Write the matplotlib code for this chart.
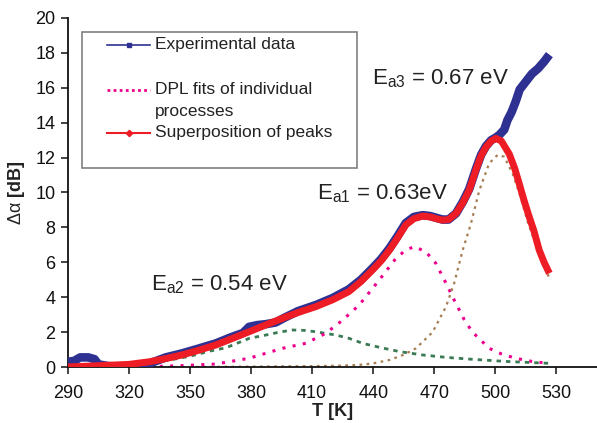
import matplotlib
matplotlib.use("Agg")
import matplotlib.pyplot as plt
from matplotlib.lines import Line2D
from matplotlib.patches import Rectangle

plt.rcParams['font.family'] = ['Liberation Sans', 'DejaVu Sans']
plt.rcParams['mathtext.fontset'] = 'custom'
plt.rcParams['mathtext.rm'] = 'Liberation Sans'
plt.rcParams['mathtext.it'] = 'Liberation Sans:italic'
plt.rcParams['mathtext.bf'] = 'Liberation Sans:bold'

# ---- data ----
T_exp = [290, 293, 296, 300, 303, 305, 310, 320, 330, 338, 346, 354, 362.6, 370, 376, 379,
         383, 387, 392, 396, 403, 411.8, 420, 428, 434, 440, 444, 448, 452, 456, 460, 464.3,
         468, 471, 474, 477, 480.7, 484, 487.2, 490.5, 493, 495.4, 498, 500.3, 502, 504.4,
         506, 508, 510, 512, 515, 518, 521, 524, 526.6]
v_exp = [0.3, 0.35, 0.55, 0.55, 0.45, 0.15, 0.05, 0.0, 0.2, 0.55, 0.78, 1.05, 1.35, 1.7, 1.95, 2.3,
         2.4, 2.45, 2.55, 2.8, 3.2, 3.55, 3.95, 4.45, 5.0, 5.7, 6.2, 6.8, 7.5, 8.25, 8.6, 8.7,
         8.65, 8.55, 8.45, 8.45, 8.8, 9.45, 10.2, 11.35, 12.15, 12.65, 13.0, 13.15, 13.3, 13.6,
         14.15, 14.6, 15.2, 15.9, 16.35, 16.8, 17.1, 17.5, 17.9]

T_sup = [290, 300, 310, 320, 330, 338, 346, 354, 362.6, 370, 379, 387, 395.4, 403, 411.8, 420,
         428, 434, 440, 444, 448, 452, 456, 460, 464.3, 468, 471, 474, 477, 480.7, 484, 487.2,
         490.5, 493, 495.4, 498, 500.3, 503, 506.9, 509.5, 511.8, 514, 516.7, 519, 521.6, 524,
         526.6]
v_sup = [0.0, 0.05, 0.1, 0.15, 0.3, 0.48, 0.69, 0.95, 1.26, 1.6, 2.02, 2.4, 2.79, 3.12, 3.46, 3.85,
         4.32, 4.9, 5.6, 6.1, 6.7, 7.4, 8.14, 8.5, 8.65, 8.6, 8.5, 8.42, 8.45, 8.8, 9.4, 10.14,
         11.3, 12.1, 12.6, 12.95, 13.1, 12.95, 12.2, 11.4, 10.5, 9.6, 8.6, 7.8, 6.7, 6.0,
         5.37]

T_a1 = [330, 346, 362.6, 379, 395.4, 406.9, 416.7, 425, 433.1, 443, 451.2, 456, 460.2, 465.9,
        470.8, 475.8, 479.8, 484.8, 488.8, 497, 503, 510, 518, 526.6]
v_a1 = [0.02, 0.08, 0.17, 0.5, 1.07, 1.36, 1.93, 2.69, 3.55, 4.99, 6.23, 6.7, 6.9, 6.6,
        5.94, 4.8, 3.84, 2.7, 2.0, 1.07, 0.75, 0.5, 0.32, 0.2]

T_a2 = [300, 310, 320, 330, 340, 350, 360, 367.6, 379, 387.2, 394, 400.3, 406, 411.8, 421.7,
        428.2, 435, 443, 453, 464.3, 476, 488.8, 505, 526.6]
v_a2 = [0.0, 0.05, 0.12, 0.25, 0.4, 0.62, 0.92, 1.1, 1.64, 1.83, 2.0, 2.12, 2.1, 2.02, 1.83,
        1.64, 1.35, 1.13, 0.88, 0.69, 0.55, 0.44, 0.32, 0.21]

T_a3 = [290, 320, 350, 380, 410, 425, 433, 439.7, 447.9, 455, 461, 469.2, 475.8, 479.8, 484,
        488, 492.1, 497, 501.1, 504.4, 508.5, 512, 516, 520, 523, 526.6]
v_a3 = [0.0, 0.0, 0.0, 0.02, 0.05, 0.08, 0.12, 0.2, 0.4, 0.7, 1.07, 2.0, 3.46, 4.8, 6.7,
        8.2, 10.1, 11.67, 12.15, 12.05, 11.1, 9.9, 8.3, 7.0, 6.0, 5.1]

x_ticks = [290, 320, 350, 380, 410, 440, 470, 500, 530]
y_ticks = [0, 2, 4, 6, 8, 10, 12, 14, 16, 18, 20]

legend_labels = ['Experimental data', 'DPL fits of individual', 'processes',
                 'Superposition of peaks']
annotations = [r'E$_{\mathrm{a3}}$ = 0.67 eV', r'E$_{\mathrm{a1}}$ = 0.63eV',
               r'E$_{\mathrm{a2}}$ = 0.54 eV']

# ---- style ----
BLUE = '#2E3192'
RED = '#EE1C25'
MAGENTA = '#EC008C'
GREEN = '#3A7A55'
BROWN = '#A67C52'
TXT = '#222222'

W, H = 597, 423
fig = plt.figure(figsize=(W / 100, H / 100), dpi=100)
ax = fig.add_axes([68 / W, 1 - 367 / H, 529 / W, 349 / H])

ax.plot(T_a2, v_a2, color=GREEN, lw=2.0, ls=(0, (1.6, 1.8)), zorder=2)
ax.plot(T_a1, v_a1, color=MAGENTA, lw=2.2, ls=(0, (1, 2.4)), zorder=2)
ax.plot(T_a3, v_a3, color=BROWN, lw=1.6, ls=(0, (1.2, 2.0)), zorder=2)
ax.plot(T_exp, v_exp, color=BLUE, lw=6.2, solid_joinstyle='round', solid_capstyle='butt',
        zorder=3)
ax.plot(T_sup, v_sup, color=RED, lw=5.0, solid_joinstyle='round', solid_capstyle='butt',
        zorder=4)

ax.set_xlim(290, 550)
ax.set_ylim(0, 20)
ax.set_xticks(x_ticks)
ax.set_yticks(y_ticks)
for s in ['top', 'right']:
    ax.spines[s].set_visible(False)
for s in ['left', 'bottom']:
    ax.spines[s].set_linewidth(1.3)
    ax.spines[s].set_color('#111111')
ax.tick_params(direction='out', length=5, width=1.1, labelsize=13, colors='#111111',
               pad=4)
ax.tick_params(axis='x', pad=8)

ax.set_xlabel('T [K]', fontsize=13, fontweight='bold', labelpad=1, color=TXT)
ax.set_ylabel(r'$\mathrm{\Delta\alpha}$ [dB]', fontsize=13, fontweight='bold', labelpad=6,
              color=TXT)

ann_pos = [(439.5, 16.5), (412.5, 9.95), (330.8, 4.7)]
for (tx, ty), s in zip(ann_pos, annotations):
    ax.text(tx, ty, s, fontsize=16, ha='left', va='center', color=TXT)

# legend (drawn manually in figure pixel coordinates)
def fx(px):
    return px / W

def fy(py):
    return 1 - py / H

fig.add_artist(Rectangle((fx(82), fy(168)), 275 / W, 136 / H, transform=fig.transFigure,
                         facecolor='white', edgecolor='#808080', lw=1.2, zorder=5))
hx0, hx1, tx0 = 107, 150, 155
rows = [45, 90, 111, 133]
fig.add_artist(Line2D([fx(hx0), fx(hx1)], [fy(rows[0])] * 2, color=BLUE, lw=1.2,
                      transform=fig.transFigure, zorder=6))
fig.add_artist(Line2D([fx((hx0 + hx1) / 2)], [fy(rows[0])], color=BLUE, marker='s', ms=3.5,
                      transform=fig.transFigure, zorder=6))
fig.add_artist(Line2D([fx(hx0), fx(hx1)], [fy(rows[1])] * 2, color=MAGENTA, lw=2.0,
                      ls=(0, (1, 1.2)), transform=fig.transFigure, zorder=6))
fig.add_artist(Line2D([fx(hx0), fx(hx1)], [fy(rows[3])] * 2, color=RED, lw=1.5,
                      transform=fig.transFigure, zorder=6))
fig.add_artist(Line2D([fx((hx0 + hx1) / 2)], [fy(rows[3])], color=RED, marker='D', ms=3.2,
                      transform=fig.transFigure, zorder=6))
for r, lab in zip(rows, legend_labels):
    fig.text(fx(tx0), fy(r), lab, fontsize=12.5, ha='left', va='center', color=TXT, zorder=7)

fig.savefig('out.png', dpi=100, facecolor='white')
